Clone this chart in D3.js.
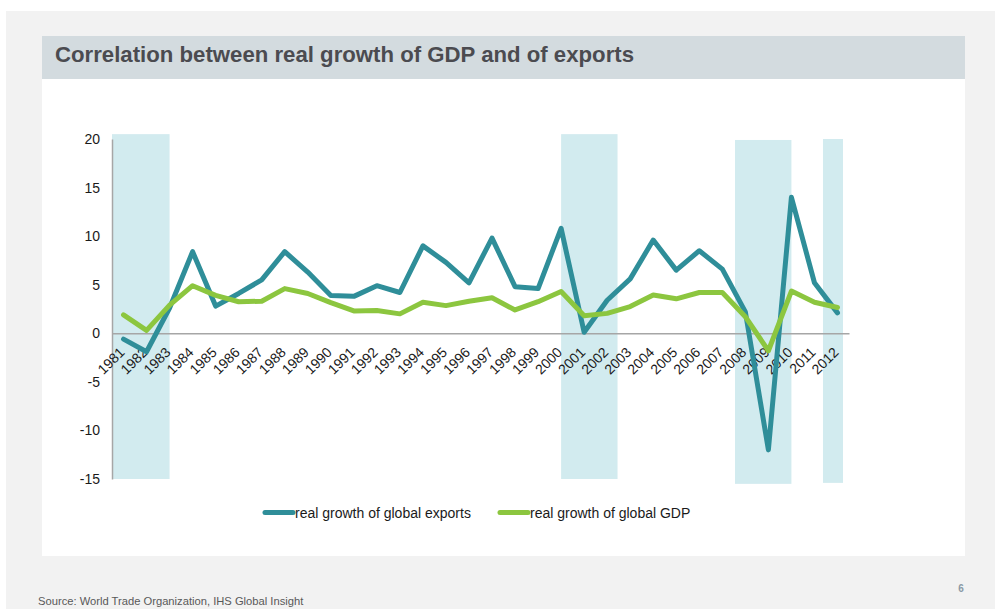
<!DOCTYPE html>
<html>
<head>
<meta charset="utf-8">
<script src="https://cdn.jsdelivr.net/npm/d3@7"></script>
<style>
  html, body { margin: 0; padding: 0; background: #ffffff; }
  svg { display: block; font-family: "Liberation Sans", Arial, sans-serif; }
</style>
</head>
<body>
<svg id="chart" width="995" height="609"></svg>
<script>
// Years on the category axis
const years = d3.range(1981, 2013).map(String);

// Real growth of global exports, % per year
const exportsGrowth = [-0.6, -1.9, 2.6, 8.4, 2.8, 4.1, 5.5, 8.4, 6.3, 3.9, 3.8, 4.9, 4.2, 9.0, 7.3, 5.2, 9.8, 4.8, 4.6,
  10.8, 0.1, 3.4, 5.6, 9.6, 6.5, 8.5, 6.6, 2.2, -12.0, 14.0, 5.2, 2.1];

// Real growth of global GDP, % per year
const gdpGrowth = [1.9, 0.3, 2.9, 4.9, 3.9, 3.25, 3.3, 4.6, 4.1, 3.15, 2.3, 2.35, 2.0, 3.2, 2.85, 3.3, 3.65, 2.4, 3.25,
  4.3, 1.8, 2.05, 2.75, 3.95, 3.55, 4.2, 4.2, 1.7, -1.8, 4.35, 3.2, 2.65];

// Value-axis ticks
const yTicks = [20, 15, 10, 5, 0, -5, -10, -15];

// Shaded slowdown periods: from/to in year units, top/bottom in % units
const periodFrom   = [1980.5, 2000.0, 2007.55, 2011.37];
const periodTo     = [1983.0, 2002.45, 2010.0, 2012.24];
const periodTop    = [20.5, 20.5, 19.9, 20.0];
const periodBottom = [-15.0, -15.0, -15.5, -15.4];

const seriesNames = ["real growth of global exports", "real growth of global GDP"];
const seriesColors = ["#2f8e99", "#8cc63f"];

const svg = d3.select("#chart");

// Page background and panels
svg.append("rect").attr("x", 6).attr("y", 11).attr("width", 989).attr("height", 598).attr("fill", "#f2f2f2");
svg.append("rect").attr("x", 42).attr("y", 36).attr("width", 923).attr("height", 43).attr("fill", "#d3dbdf");
svg.append("rect").attr("x", 42).attr("y", 79).attr("width", 923).attr("height", 477).attr("fill", "#ffffff");

svg.append("text")
  .attr("x", 55).attr("y", 62)
  .attr("font-size", 22.2).attr("font-weight", "bold").attr("fill", "#4b4b50")
  .text("Correlation between real growth of GDP and of exports");

// Scales
const x = d3.scaleBand().domain(years).range([112, 849]);
const y = d3.scaleLinear().domain([-15, 20]).range([479, 139]);
const bw = x.bandwidth();
// position of a fractional year, measured from band centres
const xYear = v => x("1981") + bw / 2 + (v - 1981) * bw;

// Shaded periods
svg.append("g").selectAll("rect")
  .data(periodFrom.map((f, i) => ({ f, t: periodTo[i], top: periodTop[i], bot: periodBottom[i] })))
  .join("rect")
  .attr("x", d => xYear(d.f))
  .attr("width", d => xYear(d.t) - xYear(d.f))
  .attr("y", d => y(d.top))
  .attr("height", d => y(d.bot) - y(d.top))
  .attr("fill", "#d2ebef");

// Value axis
const yAxis = svg.append("g")
  .attr("transform", "translate(112,0)")
  .call(d3.axisLeft(y).tickValues(yTicks).tickSize(0).tickPadding(12).tickFormat(d => String(d)));
yAxis.select(".domain").attr("stroke", "#a6a6a6").attr("stroke-width", 1.5);
yAxis.selectAll("text").attr("font-size", 14).attr("fill", "#1a1a1a")
  .attr("font-family", "Liberation Sans, Arial, sans-serif");

// Category axis along zero
const xAxis = svg.append("g")
  .attr("transform", `translate(0,${y(0)})`)
  .call(d3.axisBottom(x).tickSize(0).tickPadding(0));
xAxis.select(".domain").attr("stroke", "#a6a6a6").attr("stroke-width", 1.5);
xAxis.selectAll("text")
  .attr("font-size", 14).attr("fill", "#1a1a1a")
  .attr("font-family", "Liberation Sans, Arial, sans-serif")
  .attr("text-anchor", "end")
  .attr("y", 0)
  .attr("dy", null)
  .attr("transform", "translate(2,20) rotate(-45)");

// Lines
const line = d3.line()
  .x((d, i) => x(years[i]) + bw / 2)
  .y(d => y(d));

[exportsGrowth, gdpGrowth].forEach((s, k) => {
  svg.append("path")
    .datum(s)
    .attr("d", line)
    .attr("fill", "none")
    .attr("stroke", seriesColors[k])
    .attr("stroke-width", 5)
    .attr("stroke-linejoin", "round")
    .attr("stroke-linecap", "round");
});

// Legend
const legendX = [263, 498];
const legend = svg.append("g");
seriesNames.forEach((n, k) => {
  legend.append("line")
    .attr("x1", legendX[k] + 2).attr("x2", legendX[k] + 30)
    .attr("y1", 512.5).attr("y2", 512.5)
    .attr("stroke", seriesColors[k]).attr("stroke-width", 5).attr("stroke-linecap", "round");
  legend.append("text")
    .attr("x", legendX[k] + 32).attr("y", 517.5)
    .attr("font-size", 14).attr("fill", "#1a1a1a")
    .text(n);
});

// Footer
svg.append("text").attr("x", 38).attr("y", 605).attr("font-size", 11.2).attr("fill", "#595959")
  .text("Source:  World Trade Organization, IHS Global Insight");
svg.append("text").attr("x", 961).attr("y", 592).attr("font-size", 10).attr("font-weight", "bold")
  .attr("text-anchor", "middle").attr("fill", "#8a9aa6")
  .text("6");
</script>
</body>
</html>
